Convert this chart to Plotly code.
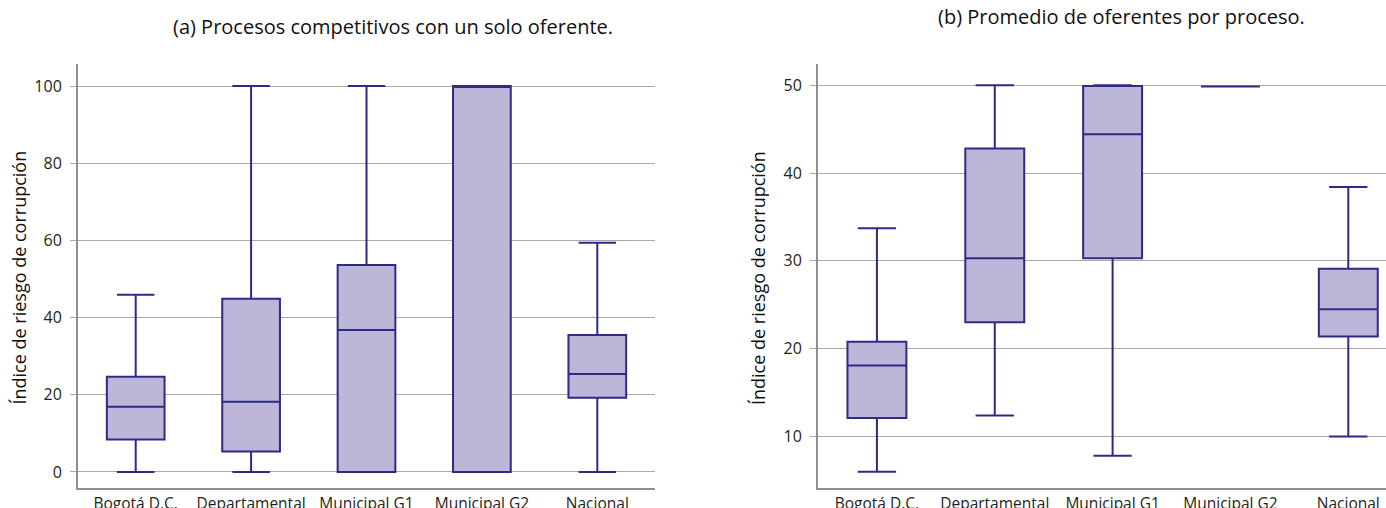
import plotly.graph_objects as go

# Categories shared by both panels
categorias = ["Bogotá D.C.", "Departamental", "Municipal G1", "Municipal G2", "Nacional"]

# (a) Procesos competitivos con un solo oferente
a_min = [0, 0, 0, 0, 0]
a_q1 = [8.4, 5.3, 0, 0, 19.2]
a_mediana = [16.9, 18.2, 36.8, 100, 25.4]
a_q3 = [24.7, 44.9, 53.6, 100, 35.5]
a_max = [45.9, 100, 100, 100, 59.4]

# (b) Promedio de oferentes por proceso
b_min = [6.0, 12.4, 7.8, 49.85, 10.0]
b_q1 = [12.1, 23.0, 30.3, 49.85, 21.4]
b_mediana = [18.1, 30.3, 44.4, 49.85, 24.5]
b_q3 = [20.8, 42.8, 49.9, 49.85, 29.1]
b_max = [33.7, 50.0, 50.0, 49.85, 38.4]

a_ticks = [0, 20, 40, 60, 80, 100]
b_ticks = [10, 20, 30, 40, 50]

W, H = 1386, 508
FILL = "#bcb6d8"
LINE = "#2c2b86"
GRID = "#a8a8a8"
AXIS = "#8e8e8e"
FONT = "'Open Sans', Lato, sans-serif"

fig = go.Figure()

box_style = dict(
    fillcolor=FILL,
    line=dict(color=LINE, width=2),
    whiskerwidth=0.65,
    boxpoints=False,
    showlegend=False,
    hoverinfo="skip",
)

fig.add_trace(go.Box(
    x=categorias, lowerfence=a_min, q1=a_q1, median=a_mediana, q3=a_q3,
    upperfence=a_max, xaxis="x", yaxis="y", **box_style))
fig.add_trace(go.Box(
    x=categorias, lowerfence=b_min, q1=b_q1, median=b_mediana, q3=b_q3,
    upperfence=b_max, xaxis="x2", yaxis="y2", **box_style))

plot_top, plot_bottom = 64, 488
plot_h = plot_bottom - plot_top


def py(ypix):
    return (plot_bottom - ypix) / plot_h


xcommon = dict(
    type="category", categoryorder="array", categoryarray=categorias,
    showgrid=False, showline=True, linecolor=AXIS, linewidth=2,
    ticks="",
    tickfont=dict(family=FONT, size=15.5, color="#231f20"),
    zeroline=False, fixedrange=True, automargin=False,
)
ycommon = dict(
    showgrid=True, gridcolor=GRID, gridwidth=1,
    showline=True, linecolor=AXIS, linewidth=2,
    ticks="outside", ticklen=6, tickcolor=GRID, tickwidth=1,
    ticklabelstandoff=5,
    tickfont=dict(family=FONT, size=16, color="#231f20"),
    zeroline=False, fixedrange=True, automargin=False,
)

fig.update_layout(
    width=W, height=H,
    margin=dict(l=0, r=0, t=plot_top, b=H - plot_bottom),
    paper_bgcolor="white", plot_bgcolor="white",
    boxgap=0.5, boxgroupgap=0,
    xaxis=dict(domain=[78 / W, 655 / W], range=[-0.5, 4.5], anchor="y", **xcommon),
    yaxis=dict(domain=[0, 1], range=[-4.15, 105.7], tickvals=a_ticks, anchor="x", **ycommon),
    xaxis2=dict(domain=[818 / W, 1.0], range=[-0.5, 4.32], anchor="y2", **xcommon),
    yaxis2=dict(domain=[0, 1], range=[4.14, 52.41], tickvals=b_ticks, anchor="x2", **ycommon),
    annotations=[
        dict(text="(a) Procesos competitivos con un solo oferente.", x=393 / W, y=py(26),
             xref="paper", yref="paper", showarrow=False, xanchor="center", yanchor="middle",
             font=dict(family=FONT, size=20, color="#111111")),
        dict(text="(b) Promedio de oferentes por proceso.", x=1121 / W, y=py(17),
             xref="paper", yref="paper", showarrow=False, xanchor="center", yanchor="middle",
             font=dict(family=FONT, size=20, color="#111111")),
        dict(text="Índice de riesgo de corrupción", x=18.5 / W, y=py(278), textangle=-90,
             xref="paper", yref="paper", showarrow=False, xanchor="center", yanchor="middle",
             font=dict(family=FONT, size=18, color="#111111")),
        dict(text="Índice de riesgo de corrupción", x=758 / W, y=py(278), textangle=-90,
             xref="paper", yref="paper", showarrow=False, xanchor="center", yanchor="middle",
             font=dict(family=FONT, size=18, color="#111111")),
    ],
)

fig.write_html("out.html")
